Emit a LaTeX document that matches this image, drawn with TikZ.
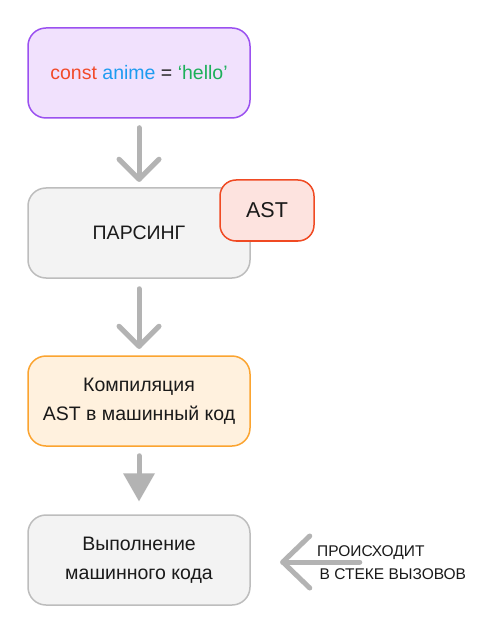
\documentclass[tikz,border=0pt]{standalone}
\usepackage{fontspec}
\setmainfont{Liberation Sans}
\usetikzlibrary{calc}
\definecolor{purpfill}{HTML}{F1E1FD}
\definecolor{purpline}{HTML}{9B51F0}
\definecolor{grayfill}{HTML}{F3F3F3}
\definecolor{grayline}{HTML}{BDBDBD}
\definecolor{redfill}{HTML}{FDE3DF}
\definecolor{redline}{HTML}{F04A23}
\definecolor{orfill}{HTML}{FFF1DE}
\definecolor{orline}{HTML}{FBA430}
\definecolor{arrowgray}{HTML}{B3B3B3}
\definecolor{kwred}{HTML}{F24A2A}
\definecolor{kwblue}{HTML}{1E9BF0}
\definecolor{kwgreen}{HTML}{1DB05A}
\definecolor{txt}{HTML}{1A1A1A}
\begin{document}
\begin{tikzpicture}[x=1pt,y=-1pt,
  box/.style={draw, line width=1.5pt, rounded corners=18pt, minimum width=222pt, minimum height=90pt, align=center, inner sep=0pt, text=txt, font=\fontsize{19.5}{28.5}\selectfont},
  chev/.style={draw=arrowgray, line width=5pt, line cap=round, line join=round},
  notetext/.style={anchor=west, inner sep=0pt, text=txt, font=\fontsize{15.5}{23.5}\selectfont, align=left}
]
\useasboundingbox (0,0) rectangle (483,617);
\fill[white] (0,0) rectangle (483,617);

\node[box, draw=purpline, fill=purpfill] (code) at (139,73)
  {\textcolor{kwred}{const} \textcolor{kwblue}{anime} = \textcolor{kwgreen}{‘hello’}};
\node[box, draw=grayline, fill=grayfill] (pars) at (139,233) {ПАРСИНГ};
\node[draw=redline, fill=redfill, line width=1.5pt, rounded corners=16pt, minimum width=94pt, minimum height=61pt, inner sep=0pt, text=txt, font=\fontsize{21.5}{24}\selectfont] (ast) at (267,210.5) {AST};
\node[box, draw=orline, fill=orfill] (comp) at (139,401) {Компиляция\\AST в машинный код};
\node[box, draw=grayline, fill=grayfill] (exec) at (139,560) {Выполнение\\машинного кода};

% arrow 1
\coordinate (a1s) at ($(code.south)+(0,9)$);
\coordinate (a1t) at ($(pars.north)+(0,-8)$);
\draw[chev] (a1s) -- (a1t);
\draw[chev] ($(a1t)+(-20,-20)$) -- (a1t) -- ($(a1t)+(20,-20)$);
% arrow 2
\coordinate (a2s) at ($(pars.south)+(0,10)$);
\coordinate (a2t) at ($(comp.north)+(0,-9)$);
\draw[chev] (a2s) -- (a2t);
\draw[chev] ($(a2t)+(-20,-20)$) -- (a2t) -- ($(a2t)+(20,-20)$);
% arrow 3
\coordinate (a3s) at ($(comp.south)+(0,9)$);
\coordinate (a3t) at ($(exec.north)+(0,-13)$);
\draw[draw=arrowgray, line width=5pt, line cap=round] (a3s) -- ($(a3t)+(0,-22)$);
\fill[arrowgray] (a3t) -- ($(a3t)+(-16,-28)$) -- ($(a3t)+(16,-28)$) -- cycle;
% arrow 4
\coordinate (a4t) at ($(exec.east)+(32,2)$);
\coordinate (a4s) at ($(a4t)+(77,0)$);
\draw[chev] (a4s) -- (a4t);
\draw[chev] ($(a4t)+(27,-26)$) -- (a4t) -- ($(a4t)+(27,26)$);
\node[notetext] (note) at (317,562.5) {ПРОИСХОДИТ\\\hspace*{2.5pt}В СТЕКЕ ВЫЗОВОВ};
\end{tikzpicture}
\end{document}
